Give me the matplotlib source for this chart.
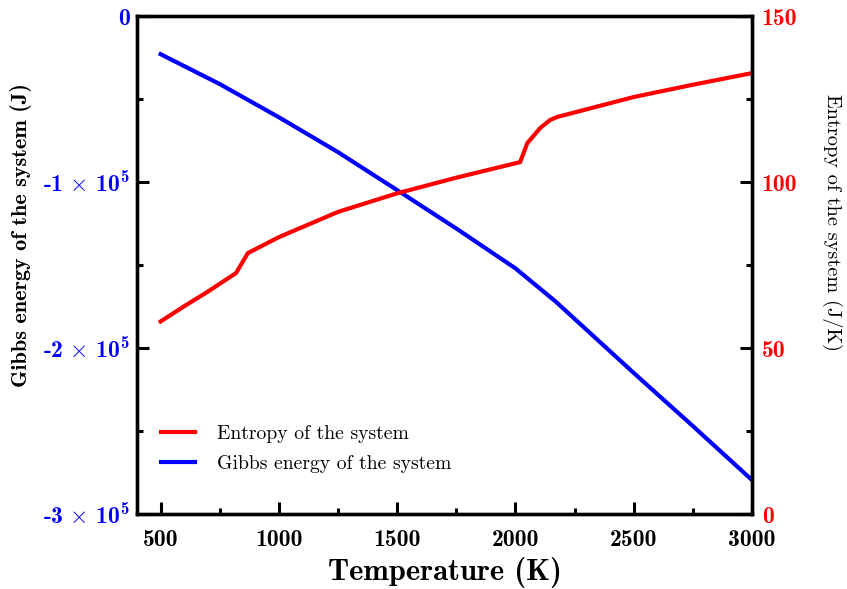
import matplotlib
matplotlib.use("Agg")
import matplotlib.pyplot as plt
from matplotlib.ticker import MultipleLocator, FuncFormatter
import numpy as np

# bold Computer Modern inside the math tick labels
plt.rcParams['mathtext.fontset'] = 'custom'
plt.rcParams['mathtext.rm'] = 'cmb10'
plt.rcParams['mathtext.bf'] = 'cmb10'
plt.rcParams['mathtext.it'] = 'cmb10'
plt.rcParams['mathtext.fallback'] = 'cm'
plt.rcParams['axes.unicode_minus'] = False

# entropy of the system (J/K) vs temperature (K)
temp_s = [500, 600, 700, 819, 869, 1000, 1250, 1500, 1750, 2020, 2050, 2105, 2147, 2177, 2500, 2750, 3000]
entropy = [58.0, 62.6, 67.0, 72.6, 78.6, 83.4, 91.0, 96.6, 101.3, 106.0, 111.7, 116.3, 118.7, 119.6, 125.6, 129.3, 132.8]

# Gibbs energy of the system (J) vs temperature (K)
temp_g = [500, 750, 1000, 1250, 1512, 1750, 2000, 2170, 2500, 2750, 3000]
gibbs = [-0.23e5, -0.41e5, -0.61e5, -0.82e5, -1.06e5, -1.28e5, -1.52e5, -1.72e5, -2.15e5, -2.47e5, -2.795e5]

fig = plt.figure(figsize=(8.47, 5.89), dpi=100)
ax = fig.add_axes([0.1617, 0.1273, 0.7261, 0.8455])
ax2 = ax.twinx()

lg, = ax.plot(temp_g, gibbs, color='blue', lw=3)
ls, = ax2.plot(temp_s, entropy, color='red', lw=3)

ax.set_xlim(400, 3000)
ax.set_ylim(-3e5, 0)
ax2.set_ylim(0, 150)

ax.xaxis.set_major_locator(MultipleLocator(500))
ax.xaxis.set_minor_locator(MultipleLocator(250))
ax.yaxis.set_major_locator(MultipleLocator(1e5))
ax.yaxis.set_minor_locator(MultipleLocator(0.5e5))
ax2.yaxis.set_major_locator(MultipleLocator(50))
ax2.yaxis.set_minor_locator(MultipleLocator(25))

def gibbs_fmt(v, pos):
    k = int(round(v / 1e5))
    if k == 0:
        return '0'
    return '-%d$\\,\\times\\,10^{5}$' % abs(k)

ax.yaxis.set_major_formatter(FuncFormatter(gibbs_fmt))

for a in (ax, ax2):
    for s in a.spines.values():
        s.set_linewidth(2.4)
    a.tick_params(which='major', direction='in', length=8.5, width=2.2)
    a.tick_params(which='minor', direction='in', length=4.5, width=2.2)

ax.tick_params(axis='x', which='both', top=False, pad=11)
ax.tick_params(axis='y', which='both', right=False, pad=5)
ax2.tick_params(axis='y', pad=7)

for t in ax.get_xticklabels():
    t.set_fontfamily('cmb10')
    t.set_fontsize(17)
for t in ax.get_yticklabels():
    t.set_fontfamily('cmb10')
    t.set_fontsize(17)
    t.set_color('blue')
for t in ax2.get_yticklabels():
    t.set_fontfamily('cmb10')
    t.set_fontsize(17)
    t.set_color('red')

ax.set_xlabel('Temperature (K)', fontfamily='cmb10', fontsize=22, labelpad=4)
ax.set_ylabel('Gibbs energy of the system (J)', fontfamily='cmb10', fontsize=16, labelpad=8)
ax.yaxis.label.set_y(0.56)
ax2.set_ylabel('Entropy of the system (J/K)', fontfamily='cmr10', fontsize=14.6,
               rotation=270, labelpad=32)
ax2.yaxis.label.set_y(0.586)

ax.legend([ls, lg], ['Entropy of the system', 'Gibbs energy of the system'],
          loc='lower left', bbox_to_anchor=(0.01, 0.046), frameon=False,
          prop={'family': 'cmr10', 'size': 14.2}, handlelength=1.75, handletextpad=1.1,
          labelspacing=0.62)

fig.savefig('out.png', dpi=100)
